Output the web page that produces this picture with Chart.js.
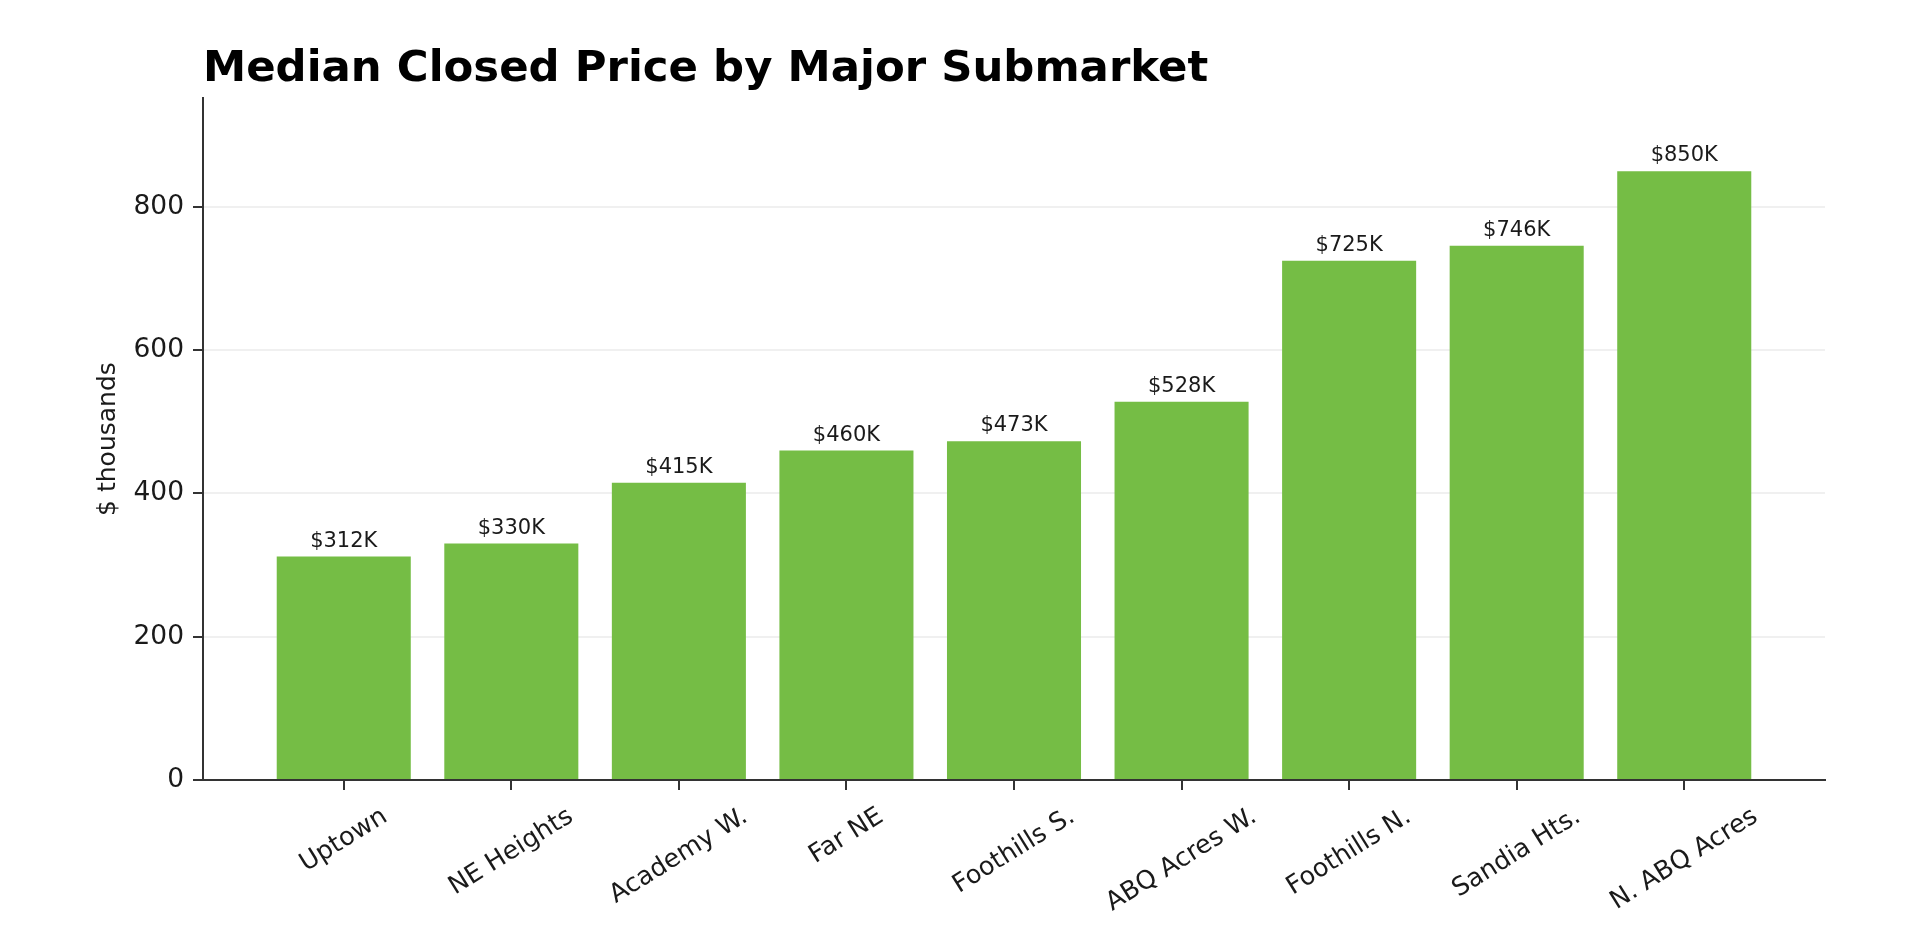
<!DOCTYPE html>
<html>
<head>
<meta charset="utf-8">
<script src="https://cdn.jsdelivr.net/npm/chart.js@4.4.1/dist/chart.umd.min.js"></script>
<style>
html,body{margin:0;padding:0;background:#fff;overflow:hidden}
canvas{display:block;background:#fff}
</style>
</head>
<body>
<canvas id="c" width="1920" height="950"></canvas>
<script>
// ---- data ----
const categories = ['Uptown','NE Heights','Academy W.','Far NE','Foothills S.','ABQ Acres W.','Foothills N.','Sandia Hts.','N. ABQ Acres'];
const medianPriceK = [312, 330, 415, 460, 473, 528, 725, 746, 850];
const yTickValues = [0, 200, 400, 600, 800];
const titleText = 'Median Closed Price by Major Submarket';
const yAxisTitle = '$ thousands';
const valueLabels = medianPriceK.map(v => '$' + v + 'K');

// ---- styles ----
const FONT = '"DejaVu Sans", "Liberation Sans", sans-serif';
const BAR_COLOR = '#75bd45';
const AXIS_COLOR = '#333333';
const TEXT_COLOR = '#1a1a1a';

Chart.defaults.font.family = FONT;

const labelPlugin = {
  id: 'customLabels',
  afterDatasetsDraw(chart) {
    const ctx = chart.ctx;
    const meta = chart.getDatasetMeta(0);
    ctx.save();
    ctx.font = '21px ' + FONT;
    ctx.fillStyle = TEXT_COLOR;
    ctx.textAlign = 'center';
    ctx.textBaseline = 'alphabetic';
    meta.data.forEach((bar, i) => {
      ctx.fillText(valueLabels[i], bar.x, bar.y - 10);
    });
    ctx.restore();
  },
  afterDraw(chart) {
    const xs = chart.scales.x;
    const ctx = chart.ctx;
    const top = chart.chartArea.bottom + 22;
    const fs = 25.5;
    const th = 32 * Math.PI / 180;
    ctx.save();
    ctx.font = fs + 'px ' + FONT;
    ctx.fillStyle = TEXT_COLOR;
    ctx.textAlign = 'center';
    ctx.textBaseline = 'middle';
    categories.forEach((c, i) => {
      const x = xs.getPixelForValue(i);
      const w = ctx.measureText(c).width;
      const h = fs * 1.164;
      const H = w * Math.sin(th) + h * Math.cos(th);
      ctx.save();
      ctx.translate(x, top + H / 2);
      ctx.rotate(-th);
      ctx.fillText(c, 0, 0);
      ctx.restore();
    });
    ctx.restore();
  }
};

new Chart(document.getElementById('c'), {
  type: 'bar',
  data: {
    datasets: [{
      data: medianPriceK.map((v, i) => ({ x: i, y: v })),
      backgroundColor: BAR_COLOR,
      borderWidth: 0,
      barPercentage: 0.8,
      categoryPercentage: 1.0
    }]
  },
  options: {
    responsive: false,
    animation: false,
    devicePixelRatio: 1,
    layout: { padding: { left: 0, right: 95, top: 0, bottom: 0 } },
    plugins: {
      legend: { display: false },
      tooltip: { enabled: false },
      title: {
        display: true,
        text: titleText,
        align: 'start',
        fullSize: false,
        color: '#000',
        font: { size: 43.4, weight: 'bold', family: FONT },
        padding: { top: 44, bottom: 2 }
      }
    },
    scales: {
      x: {
        type: 'linear',
        offset: false,
        min: -0.84,
        max: 8.84,
        afterBuildTicks: s => { s.ticks = categories.map((_, i) => ({ value: i })); },
        afterFit: s => { s.height = 170; },
        ticks: { display: false },
        grid: {
          display: true,
          offset: false,
          drawOnChartArea: false,
          color: AXIS_COLOR,
          tickColor: AXIS_COLOR,
          tickLength: 10,
          lineWidth: 2
        },
        border: { display: true, color: AXIS_COLOR, width: 2 }
      },
      y: {
        type: 'linear',
        min: 0,
        max: 952,
        afterBuildTicks: s => { s.ticks = yTickValues.map(v => ({ value: v })); },
        afterFit: s => { s.width = 203; },
        ticks: {
          stepSize: 200,
          color: TEXT_COLOR,
          padding: 9,
          font: { size: 26.5, family: FONT }
        },
        grid: {
          color: c => (c.tick && c.tick.value === 0) ? 'rgba(0,0,0,0)' : 'rgba(0,0,0,0.06)',
          tickColor: AXIS_COLOR,
          tickLength: 10,
          lineWidth: 2
        },
        border: { display: true, color: AXIS_COLOR, width: 2 },
        title: {
          display: true,
          text: yAxisTitle,
          color: TEXT_COLOR,
          font: { size: 25, family: FONT },
          padding: { top: 93, bottom: 0 }
        }
      }
    }
  },
  plugins: [labelPlugin]
});
</script>
</body>
</html>
